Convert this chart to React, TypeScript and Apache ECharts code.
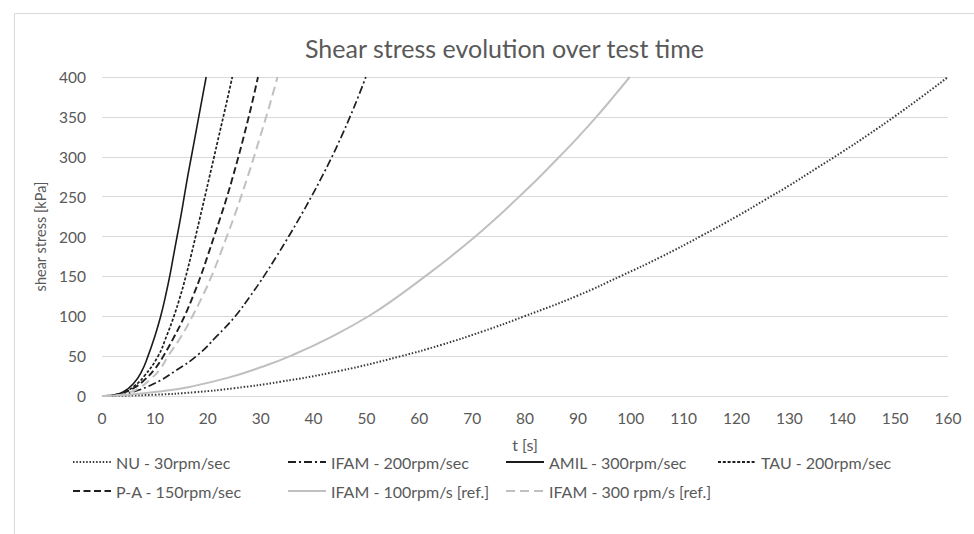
import React, { useEffect, useRef } from "react";
import * as echarts from "echarts";

// [t (s), shear stress (kPa)]
const nuData: number[][] = [[0,0],[10,1.6],[17.6,4.8],[25,9.8],[33.7,17.8],[45,31.6],[56.4,49.7],[64.1,64],[72,81],[79.7,99.5],[90,126],[98.3,151],[105.6,174],[113.4,201],[120,225],[125.4,246],[130,264],[135,285],[140,306],[145,328],[150,351],[155,375],[160,400]];
const ifam200Data: number[][] = [[0,0],[3,1],[6,5.5],[10,16],[14,32],[18.2,52],[21.7,75],[25.2,100],[28.0,125],[30.6,150],[33.0,175],[35.3,200],[37.5,225],[39.6,250],[41.6,275],[43.5,300],[45.25,325],[46.9,350],[48.45,375],[49.9,400]];
const amilData: number[][] = [[0,0],[2,1],[4,5],[6,16],[7.5,31],[8.7,50],[10,75],[11.1,100],[12.0,125],[12.8,150],[13.5,175],[14.2,200],[14.9,225],[15.55,250],[16.2,275],[16.9,300],[17.6,325],[18.3,350],[19.0,375],[19.7,400]];
const tauData: number[][] = [[0,0],[2,1],[4,4],[6,12],[8,25],[10.6,50],[12.2,75],[13.6,100],[14.8,125],[15.85,150],[16.8,175],[17.7,200],[18.58,225],[19.46,250],[20.33,275],[21.2,300],[22.07,325],[22.94,350],[23.8,375],[24.65,400]];
const paData: number[][] = [[0,0],[2,1],[4,4],[6,10],[8,20],[10,34],[11.6,50],[13.7,75],[15.6,100],[17.2,125],[18.65,150],[19.95,175],[21.2,200],[22.45,225],[23.65,250],[24.75,275],[25.8,300],[26.8,325],[27.75,350],[28.65,375],[29.5,400]];
const ifam100Data: number[][] = [[0,0],[5,1.5],[11.3,6],[17,12],[23.9,23],[30,36],[35.9,51],[43,73],[50.4,100],[56,125],[61.1,150],[66,175],[70.6,200],[74.9,225],[78.9,250],[82.8,275],[86.5,300],[90.1,325],[93.5,350],[96.7,375],[99.8,400]];
const ifam300Data: number[][] = [[0,0],[3,1],[5,4],[7,10],[9,20],[11,34],[12.5,50],[15,75],[17.1,100],[19,125],[20.7,150],[22.2,175],[23.6,200],[25,225],[26.3,250],[27.55,275],[28.75,300],[29.9,325],[31.05,350],[32.15,375],[33.2,400]];

const seriesNames = [
  "NU - 30rpm/sec",
  "IFAM - 200rpm/sec",
  "AMIL - 300rpm/sec",
  "TAU - 200rpm/sec",
  "P-A - 150rpm/sec",
  "IFAM - 100rpm/s [ref.]",
  "IFAM - 300 rpm/s [ref.]",
];
const seriesData = [nuData, ifam200Data, amilData, tauData, paData, ifam100Data, ifam300Data];
const seriesColors = ["#3a3a3a", "#1f1f1f", "#1a1a1a", "#1f1f1f", "#1f1f1f", "#c0c0c0", "#c0c0c0"];
const seriesDash: any[] = [[1.5, 1.8], [8, 3, 2, 3], "solid", [3, 1.8], [7, 3.5], "solid", [9, 5]];
const seriesWidth = [2, 1.7, 1.6, 1.7, 1.9, 2, 2];

const xTicks = [0, 160, 10];
const yTicks = [0, 400, 50];

const legendPos = [
  [72, 454], [287, 454], [505, 454], [717, 454],
  [72, 483], [287, 483], [505, 483],
];

export default function App() {
  const ref = useRef<HTMLDivElement>(null);
  useEffect(() => {
    document.body.style.margin = "0";
    const chart = echarts.init(ref.current!, null, { renderer: "svg" });
    const font = "Lato, 'Liberation Sans', sans-serif";
    const series = seriesNames.map((name, i) => ({
      name,
      type: "line",
      data: seriesData[i],
      smooth: 0.5,
      showSymbol: false,
      symbol: "none",
      lineStyle: { color: seriesColors[i], width: seriesWidth[i], type: seriesDash[i] },
      itemStyle: { color: seriesColors[i] },
    }));
    const legends = seriesNames.map((name, i) => ({
      data: [name],
      left: legendPos[i][0],
      top: legendPos[i][1],
      itemWidth: 38,
      itemHeight: 14,
      itemGap: 5,
      padding: 0,
      itemStyle: { opacity: 0 },
      textStyle: { color: "#595959", fontSize: 16, fontFamily: font },
      selectedMode: false,
    }));
    chart.setOption({
      animation: false,
      backgroundColor: "#ffffff",
      title: {
        text: "Shear stress evolution over test time",
        left: 300,
        top: 30,
        textStyle: { color: "#595959", fontSize: 25, fontWeight: "normal", fontFamily: font },
      },
      graphic: [
        {
          type: "rect",
          shape: { x: 14.5, y: 13.5, width: 1000, height: 600 },
          style: { fill: "none", stroke: "#d9d9d9", lineWidth: 1 },
          silent: true,
        },
      ],
      legend: legends,
      grid: { left: 102, right: 26, top: 77, bottom: 138, containLabel: false },
      xAxis: {
        type: "value",
        min: xTicks[0],
        max: xTicks[1],
        interval: xTicks[2],
        name: "t [s]",
        nameLocation: "middle",
        nameGap: 40,
        nameTextStyle: { color: "#595959", fontSize: 16, fontFamily: font },
        axisLine: { show: true, lineStyle: { color: "#d9d9d9", width: 1 } },
        axisTick: { show: false },
        splitLine: { show: false },
        axisLabel: { color: "#595959", fontSize: 15.5, margin: 14, fontFamily: font },
      },
      yAxis: {
        type: "value",
        min: yTicks[0],
        max: yTicks[1],
        interval: yTicks[2],
        name: "shear stress [kPa]",
        nameLocation: "middle",
        nameGap: 42,
        nameTextStyle: { color: "#595959", fontSize: 14.5, fontFamily: font },
        axisLine: { show: false },
        axisTick: { show: false },
        splitLine: { show: true, lineStyle: { color: "#d9d9d9", width: 1 } },
        axisLabel: { color: "#595959", fontSize: 15.5, margin: 16, fontFamily: font },
      },
      series,
    });
    return () => chart.dispose();
  }, []);
  return <div ref={ref} style={{ position: "absolute", left: 0, top: 0, width: 974, height: 534 }} />;
}
